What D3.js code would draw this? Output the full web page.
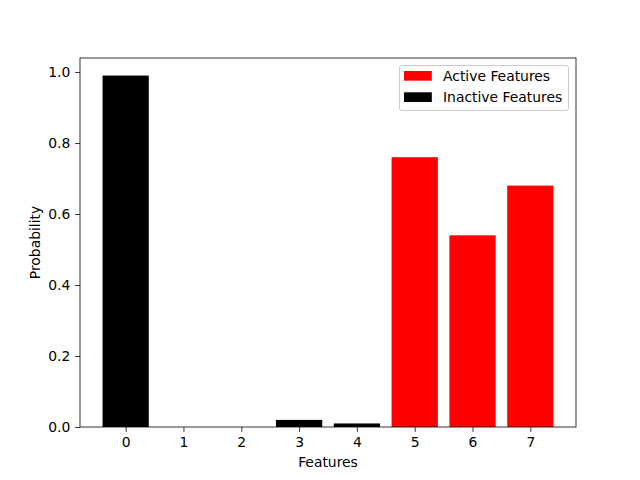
<!DOCTYPE html>
<html><head><meta charset="utf-8">
<script src="https://cdn.jsdelivr.net/npm/d3@7"></script>
<style>body{margin:0;background:#fff}svg{display:block}text{font-family:"DejaVu Sans",sans-serif}</style>
</head><body>
<script>
const categories = [0,1,2,3,4,5,6,7];
const values = [0.99, 0, 0, 0.02, 0.01, 0.76, 0.54, 0.68];
const active = [false,false,false,false,false,true,true,true];
const yTicks = [0.0,0.2,0.4,0.6,0.8,1.0];
const legendLabels = ["Active Features","Inactive Features"];
const legendColors = ["#ff0000","#000000"];

const W=640,H=480, L=80, R=576, T=58, B=427;
const svg=d3.select("body").append("svg").attr("width",W).attr("height",H);
const x=d3.scaleLinear().domain([-0.79,7.79]).range([L,R]);
const y=d3.scaleLinear().domain([0,0.99*1.05]).range([B,T]);
const fs=13.9;

svg.selectAll("rect.bar").data(categories).enter().append("rect")
 .attr("x",d=>x(d-0.4)).attr("width",d=>x(d+0.4)-x(d-0.4))
 .attr("y",(d,i)=>y(values[i])).attr("height",(d,i)=>y(0)-y(values[i]))
 .attr("fill",(d,i)=>active[i]?legendColors[0]:legendColors[1]);

const xa=svg.append("g").attr("transform",`translate(0,${B})`)
 .call(d3.axisBottom(x).tickValues(categories).tickFormat(d3.format("d")).tickSize(4.86).tickPadding(4.86));
const ya=svg.append("g").attr("transform",`translate(${L},0)`)
 .call(d3.axisLeft(y).tickValues(yTicks).tickFormat(d3.format(".1f")).tickSize(4.86).tickPadding(4.86));
[xa,ya].forEach(a=>{a.select(".domain").remove();a.selectAll("text").attr("font-size",fs).attr("font-family","DejaVu Sans").attr("fill","#000");a.selectAll("line").attr("stroke","#000").attr("stroke-width",0.8);});

svg.append("rect").attr("x",L).attr("y",T).attr("width",R-L).attr("height",B-T)
 .attr("fill","none").attr("stroke","#000").attr("stroke-width",0.8);

svg.append("text").attr("x",(L+R)/2).attr("y",467).attr("text-anchor","middle").attr("font-size",fs).text("Features");
svg.append("text").attr("transform",`translate(40,${(T+B)/2}) rotate(-90)`).attr("text-anchor","middle").attr("font-size",fs).text("Probability");

const lg=svg.append("g");
lg.append("rect").attr("x",399.5).attr("y",65.5).attr("width",169).attr("height",45).attr("rx",2.5)
 .attr("fill","#fff").attr("fill-opacity",0.8).attr("stroke","#cccccc").attr("stroke-width",1);
legendLabels.forEach((t,i)=>{
 lg.append("rect").attr("x",404).attr("y",71+i*21.3).attr("width",27.8).attr("height",9.7).attr("fill",legendColors[i]);
 lg.append("text").attr("x",443).attr("y",81+i*21.3).attr("font-size",fs).text(t);
});
</script>
</body></html>
